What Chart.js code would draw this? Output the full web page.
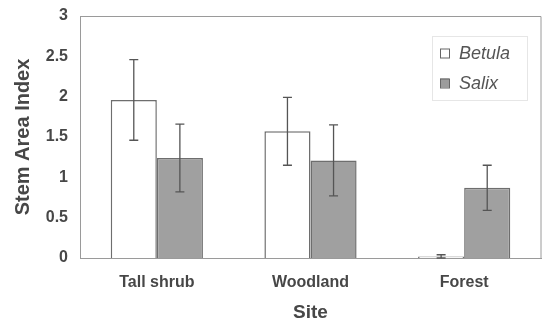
<!DOCTYPE html>
<html>
<head>
<meta charset="utf-8">
<script src="https://cdn.jsdelivr.net/npm/chart.js@4.4.1/dist/chart.umd.min.js"></script>
<style>
  html, body { margin: 0; padding: 0; background: #fff; }
  #wrap { width: 542px; height: 324px; position: relative; }
</style>
</head>
<body>
<div id="wrap"><canvas id="c" width="542" height="324"></canvas></div>
<script>
// Stem area index by site, with standard-error bars
const sites = ['Tall shrub', 'Woodland', 'Forest'];
const betula = [1.96, 1.57, 0.02];
const betulaErr = [0.50, 0.42, 0.02];
const salix = [1.24, 1.21, 0.87];
const salixErr = [0.42, 0.44, 0.28];
const yTicks = [0, 0.5, 1, 1.5, 2, 2.5, 3];

const textColor = '#474747';
const fontFamily = '"Liberation Sans", Arial, sans-serif';

// Error bars drawn through the chart's own scales
const errorBars = {
  id: 'errorBars',
  afterDatasetsDraw(chart) {
    const ctx = chart.ctx;
    const y = chart.scales.y;
    const errs = [betulaErr, salixErr];
    ctx.save();
    ctx.strokeStyle = '#555';
    ctx.lineWidth = 1.3;
    chart.data.datasets.forEach((ds, di) => {
      const meta = chart.getDatasetMeta(di);
      meta.data.forEach((bar, i) => {
        const v = ds.data[i], e = errs[di][i];
        const x = bar.x;
        const yt = y.getPixelForValue(v + e);
        const yb = y.getPixelForValue(Math.max(0, v - e));
        const cap = 4.5;
        ctx.beginPath();
        ctx.moveTo(x, yt); ctx.lineTo(x, yb);
        ctx.moveTo(x - cap, yt); ctx.lineTo(x + cap, yt);
        ctx.moveTo(x - cap, yb); ctx.lineTo(x + cap, yb);
        ctx.stroke();
      });
    });
    ctx.restore();
  }
};

// Plot frame (top and right edges) and inset legend
const frameAndLegend = {
  id: 'frameAndLegend',
  afterDraw(chart) {
    const ctx = chart.ctx;
    const a = chart.chartArea;
    ctx.save();
    ctx.strokeStyle = '#9a9a9a';
    ctx.lineWidth = 1;
    ctx.beginPath();
    ctx.moveTo(a.left, a.top + 0.5);
    ctx.lineTo(a.right, a.top + 0.5);
    ctx.lineTo(a.right, a.bottom);
    ctx.stroke();

    // legend box
    const bx = 432, by = 36, bw = 95, bh = 64;
    ctx.strokeStyle = '#e6e6e6';
    ctx.strokeRect(bx + 0.5, by + 0.5, bw, bh);
    const items = [
      { label: 'Betula', fill: '#ffffff' },
      { label: 'Salix', fill: '#9c9c9c' }
    ];
    ctx.font = 'italic 18px ' + fontFamily;
    ctx.textBaseline = 'middle';
    items.forEach((it, i) => {
      const cy = 53 + i * 30;
      ctx.fillStyle = it.fill;
      ctx.fillRect(440, cy - 4.5, 9, 9);
      ctx.strokeStyle = '#666';
      ctx.lineWidth = 1;
      ctx.strokeRect(440.5, cy - 4, 9, 9);
      ctx.fillStyle = '#555';
      ctx.fillText(it.label, 459, cy + 1);
    });
    ctx.restore();
  }
};

new Chart(document.getElementById('c'), {
  type: 'bar',
  data: {
    labels: sites,
    datasets: [
      { label: 'Betula', data: betula, backgroundColor: '#ffffff', borderColor: '#6e6e6e', borderWidth: 1.5, borderSkipped: 'bottom' },
      { label: 'Salix', data: salix, backgroundColor: '#a0a0a0', borderColor: '#6e6e6e', borderWidth: 1.5, borderSkipped: 'bottom' }
    ]
  },
  options: {
    responsive: false,
    animation: false,
    devicePixelRatio: 1,
    layout: { padding: { top: 16, right: 1, left: 0, bottom: 0 } },
    plugins: {
      legend: { display: false },
      tooltip: { enabled: false }
    },
    datasets: { bar: { categoryPercentage: 0.6, barPercentage: 1 } },
    scales: {
      x: {
        grid: { display: false, drawTicks: false },
        border: { display: true, color: '#9a9a9a', width: 1 },
        ticks: { color: textColor, font: { family: fontFamily, size: 16, weight: 'bold' }, padding: 15, maxRotation: 0 },
        title: { display: true, text: 'Site', color: textColor, font: { family: fontFamily, size: 19, weight: 'bold' }, padding: { top: 0, bottom: 0 } },
        afterFit(scale) { scale.height = 66; }
      },
      y: {
        min: 0, max: 3,
        grid: { display: false, drawTicks: false },
        border: { display: true, color: '#9a9a9a', width: 1 },
        afterBuildTicks(scale) { scale.ticks = yTicks.map(v => ({ value: v })); },
        ticks: { color: textColor, font: { family: fontFamily, size: 16, weight: 'bold' }, padding: 12, callback: v => String(v) },
        title: { display: true, text: 'Stem Area Index', color: textColor, font: { family: fontFamily, size: 20, weight: 'bold' }, padding: { top: 11, bottom: 0 } },
        afterFit(scale) { scale.width = 80; scale.paddingTop = 0; scale.paddingBottom = 0; }
      }
    }
  },
  plugins: [errorBars, frameAndLegend]
});
</script>
</body>
</html>
